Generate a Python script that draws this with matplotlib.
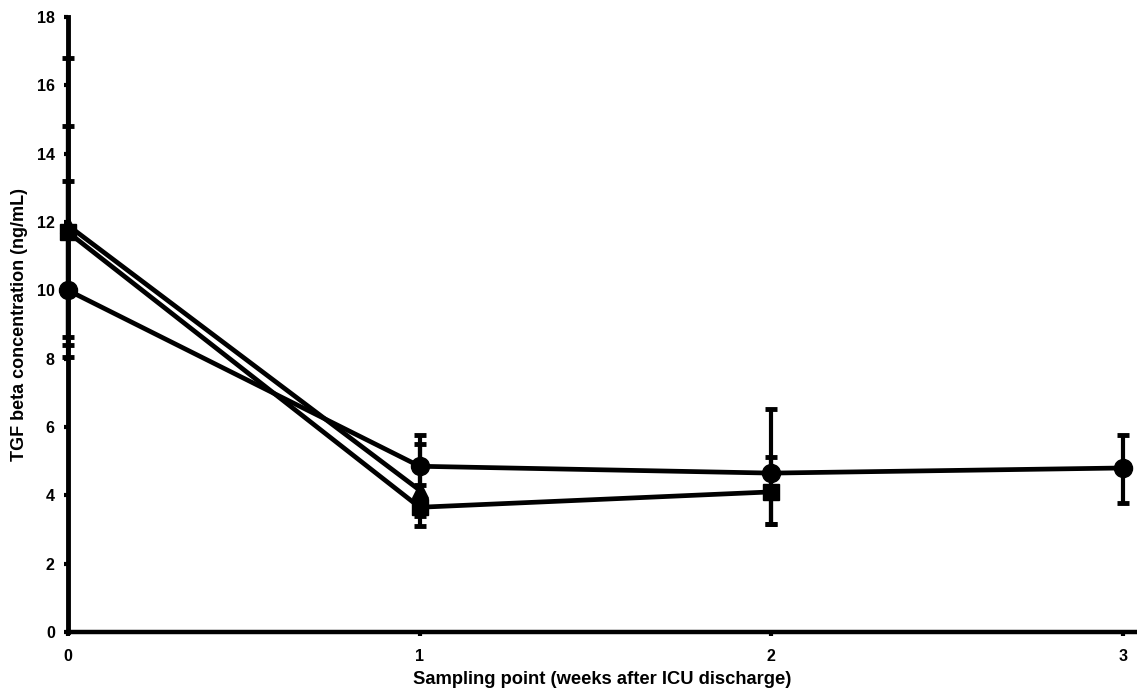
import matplotlib.pyplot as plt
import numpy as np

plt.rcParams['font.family'] = ['Liberation Sans', 'DejaVu Sans']

# --- dati ---
weeks = [0, 1, 2, 3]

circ_x = [0, 1, 2, 3]
circ_y = [10.0, 4.85, 4.65, 4.8]
circ_lo = [1.95, 0.95, 1.5, 1.02]
circ_hi = [3.2, 0.92, 1.88, 0.97]

tri_x = [0, 1]
tri_y = [11.9, 4.15]
tri_lo = [3.27, 0.75]
tri_hi = [4.9, 1.35]

sq_x = [0, 1, 2]
sq_y = [11.7, 3.65, 4.1]
sq_lo = [3.3, 0.55, 0.95]
sq_hi = [3.1, 0.65, 1.02]

YTICKS = np.arange(0, 19, 2)

fig = plt.figure(figsize=(11.37, 6.96), dpi=100)
ax = fig.add_axes([0.0598, 0.092, 0.9402, 0.8836])

common = dict(color="black", linewidth=3.4, elinewidth=3, capsize=4,
              capthick=3.5, clip_on=False, zorder=3)
ax.errorbar(tri_x, tri_y, yerr=[tri_lo, tri_hi], marker="^", markersize=12, **common)
ax.errorbar(sq_x, sq_y, yerr=[sq_lo, sq_hi], marker="s", markersize=11.5, **common)
ax.errorbar(circ_x, circ_y, yerr=[circ_lo, circ_hi], marker="o", markersize=13, **common)

ax.set_xlim(0, 3.04)
ax.set_ylim(0, 18)
ax.set_xticks(weeks)
ax.set_yticks(YTICKS)
ax.tick_params(axis="y", direction="out", length=3, width=3,
               labelsize=11.5, pad=6.5)
ax.tick_params(axis="x", direction="out", length=3, width=3,
               labelsize=11.5, pad=9)
for lab in ax.get_xticklabels() + ax.get_yticklabels():
    lab.set_fontweight("bold")

ax.spines["top"].set_visible(False)
ax.spines["right"].set_visible(False)
ax.spines["left"].set_linewidth(3.5)
ax.spines["bottom"].set_linewidth(3.2)

ax.set_xlabel("Sampling point (weeks after ICU discharge)", fontsize=13.2,
              fontweight="bold", labelpad=5)
ax.set_ylabel("TGF beta concentration (ng/mL)", fontsize=13,
              fontweight="bold", labelpad=6)

plt.savefig("out.png", dpi=100)
